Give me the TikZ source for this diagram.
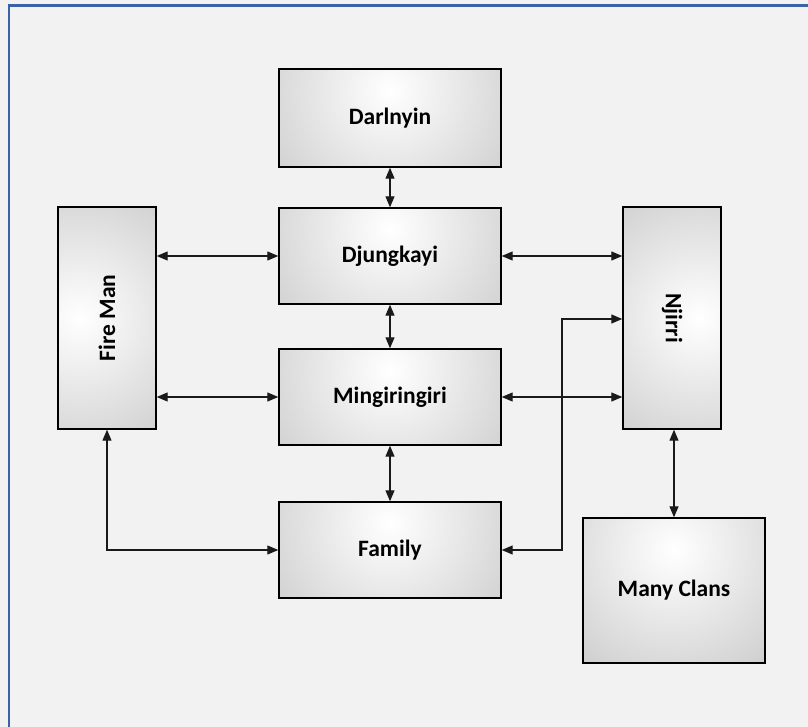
\documentclass[tikz,border=0pt]{standalone}
\usepackage{fontspec}
\setmainfont{Carlito}
\usetikzlibrary{arrows.meta,calc,shadows}
\definecolor{bgc}{HTML}{F2F2F2}
\definecolor{framec}{HTML}{3B62A6}
\definecolor{outerc}{HTML}{959595}
\definecolor{linec}{HTML}{1A1A1A}
\tikzset{
  gbox/.style 2 args={draw=black, line width=1.4pt,
    drop shadow={shadow xshift=1.2pt, shadow yshift=-1.2pt, fill=black!70, opacity=0.6},
    path picture={
      \fill[outerc] (path picture bounding box.south west) rectangle (path picture bounding box.north east);
      \shade[inner color=white, outer color=outerc]
        ($(path picture bounding box.#1)!0.22!(path picture bounding box.#2)$) circle (320pt);
    }},
  lbl/.style={font=\fontsize{23.5}{28}\selectfont\bfseries, text=black},
  conn/.style={draw=linec, line width=1.1pt, {Triangle[length=11pt,width=9pt]}-{Triangle[length=11pt,width=9pt]}},
}
\begin{document}
\begin{tikzpicture}[x=1pt,y=-1pt]
\useasboundingbox (0,0) rectangle (808,727);
\fill[bgc] (0,0) rectangle (808,727);
\draw[framec, line width=2.2pt] (9,727) -- (9,5.5) -- (808,5.5);

\node[gbox={north}{south}, minimum width=222pt, minimum height=98pt, inner sep=0pt] (dar) at (390,118) {};
\node[lbl] at (dar) {Darlnyin};
\node[gbox={north}{south}, minimum width=222pt, minimum height=96pt, inner sep=0pt] (dju) at (390,256) {};
\node[lbl] at (dju) {Djungkayi};
\node[gbox={north}{south}, minimum width=222pt, minimum height=96pt, inner sep=0pt] (min) at (390,397) {};
\node[lbl] at (min) {Mingiringiri};
\node[gbox={north}{south}, minimum width=222pt, minimum height=96pt, inner sep=0pt] (fam) at (390,550) {};
\node[lbl] at (fam) {Family};
\node[gbox={west}{east}, minimum width=98pt, minimum height=222pt, inner sep=0pt] (fire) at (107,318) {};
\node[lbl, rotate=90] at (fire) {Fire Man};
\node[gbox={east}{west}, minimum width=98pt, minimum height=222pt, inner sep=0pt] (nji) at (672,318) {};
\node[lbl, rotate=-90] at (nji) {Njirri};
\node[gbox={north}{south}, minimum width=182pt, minimum height=145pt, inner sep=0pt] (clans) at (674,590.5) {};
\node[lbl] at (clans) {Many Clans};

\coordinate (kink) at (562,319);

\draw[conn] (dar.south) -- (dju.north);
\draw[conn] (dju.south) -- (min.north);
\draw[conn] (min.south) -- (fam.north);
\draw[conn] (fire.east |- dju.west) -- (dju.west);
\draw[conn] (dju.east) -- (nji.west |- dju.east);
\draw[conn] (fire.east |- min.west) -- (min.west);
\draw[conn] (min.east) -- (nji.west |- min.east);
\draw[conn] (fire.south) -- (fire.south |- fam.west) -- (fam.west);
\draw[conn] (fam.east) -| (kink) -- (nji.west |- kink);
\draw[conn] (clans.north |- nji.south) -- (clans.north);
\end{tikzpicture}
\end{document}
